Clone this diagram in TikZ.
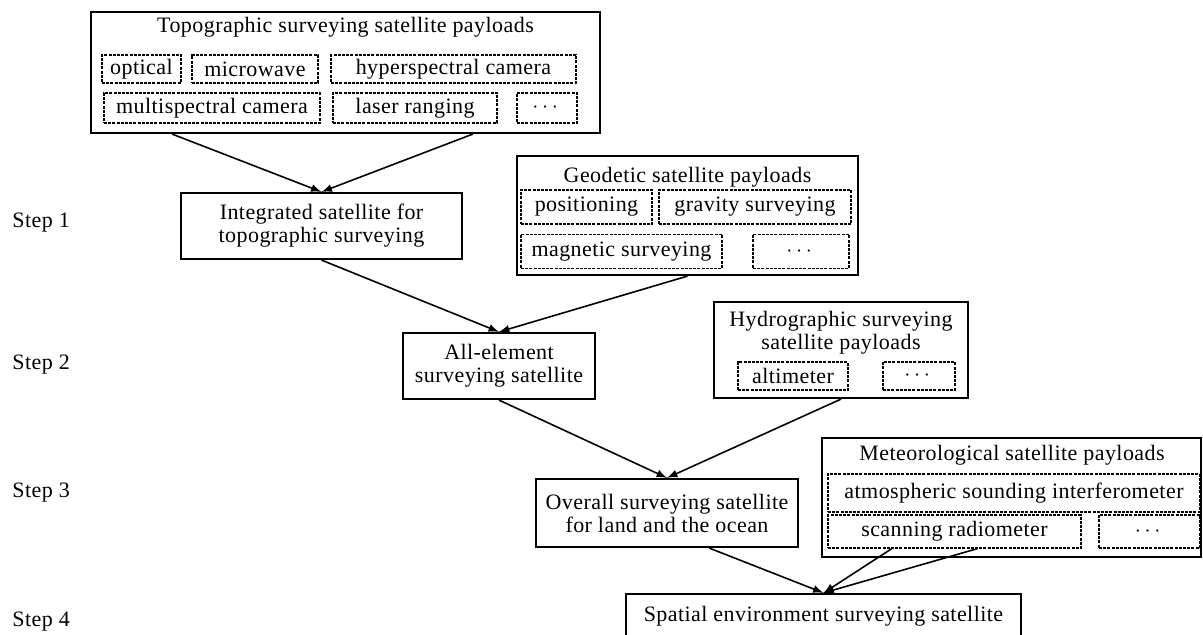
\documentclass[tikz,border=0pt]{standalone}
\usepackage{fontspec}
\setmainfont{Liberation Serif}[LetterSpace=2]
\usepackage{amsmath, amssymb}
\usepackage{tikz}
\usetikzlibrary{calc,shapes, arrows}

\tikzset{
    outerbox/.style={draw, line width=1.1pt, inner sep=0pt},
    satbox/.style={draw, line width=1.1pt, inner sep=0pt, align=center},
    dashbox/.style={draw, line width=0.7pt, dash pattern=on 1.5pt off 0.6pt, inner sep=0pt},
    steplabel/.style={anchor=west, inner sep=0pt},
    arr/.style={-latex, line width=0.8pt}
}

\begin{document}
\begin{tikzpicture}[x=0.5pt,y=-0.5pt,font=\fontsize{11pt}{11.5pt}\selectfont]
        \useasboundingbox (0,0) rectangle (1203,635);

        \node[steplabel] (s1) at (12,223) {Step 1};
        \node[steplabel] (s2) at (12,365) {Step 2};
        \node[steplabel] (s3) at (12,493) {Step 3};
        \node[steplabel] (s4) at (12,622) {Step 4};

        \node[outerbox, minimum width=254.5pt, minimum height=60.5pt] (topo) at (345.5,72.5) {};
        \node (topotitle) at (345.5,27) {Topographic surveying satellite payloads};
        \node[dashbox, minimum width=39.5pt, minimum height=14pt] (optical) at (141.5,69) {optical};
        \node[dashbox, minimum width=63pt, minimum height=14pt] (micro) at (255,69) {microwave};
        \node[dashbox, minimum width=122.5pt, minimum height=14pt] (hyper) at (453.5,69) {hyperspectral camera};
        \node[dashbox, minimum width=108pt, minimum height=15pt] (multi) at (212,108) {multispectral camera};
        \node[dashbox, minimum width=82pt, minimum height=15pt] (laser) at (415,108) {laser ranging};
        \node[dashbox, minimum width=30pt, minimum height=15pt] (tdots) at (547,108) {$\cdots$};

        \node[satbox, minimum width=140.5pt, minimum height=33pt] (integ) at (321.5,226) {Integrated satellite for\\topographic surveying};

        \node[outerbox, minimum width=170.5pt, minimum height=59.5pt] (geo) at (687.5,215.5) {};
        \node (geotitle) at (687.5,177) {Geodetic satellite payloads};
        \node[dashbox, minimum width=65.5pt, minimum height=17pt] (posi) at (586.5,207) {positioning};
        \node[dashbox, minimum width=96pt, minimum height=17pt] (grav) at (755,207) {gravity surveying};
        \node[dashbox, minimum width=100.5pt, minimum height=17pt] (magn) at (621.5,251.5) {magnetic surveying};
        \node[dashbox, minimum width=48pt, minimum height=17pt] (gdots) at (801,251.5) {$\cdots$};

        \node[satbox, minimum width=96pt, minimum height=33pt] (allel) at (499,366) {All-element\\surveying satellite};

        \node[outerbox, minimum width=127pt, minimum height=48pt] (hydro) at (841,350) {};
        \node[align=center] (hydrotitle) at (841,333) {Hydrographic surveying\\satellite payloads};
        \node[dashbox, minimum width=55pt, minimum height=14pt] (alti) at (793,376) {altimeter};
        \node[dashbox, minimum width=36pt, minimum height=14pt] (hdots) at (919,376) {$\cdots$};

        \node[satbox, minimum width=131pt, minimum height=34pt] (overall) at (667,513) {Overall surveying satellite\\for land and the ocean};

        \node[outerbox, minimum width=189.5pt, minimum height=59.5pt] (meteo) at (1011.5,497.5) {};
        \node (meteotitle) at (1012,455) {Meteorological satellite payloads};
        \node[dashbox, minimum width=186pt, minimum height=19pt] (atmo) at (1014,493) {atmospheric sounding interferometer};
        \node[dashbox, minimum width=126.5pt, minimum height=16.5pt] (scan) at (954.5,531.5) {scanning radiometer};
        \node[dashbox, minimum width=50.5pt, minimum height=16.5pt] (mdots) at (1149.5,531.5) {$\cdots$};

        \node[satbox, minimum width=197.5pt, minimum height=22pt] (spatial) at (823.5,616) {Spatial environment surveying satellite};

        \draw[arr] ($(topo.south west)!0.161!(topo.south east)$) -- (integ.north);
        \draw[arr] ($(topo.south west)!0.749!(topo.south east)$) -- (integ.north);
        \draw[arr] (integ.south) -- (allel.north);
        \draw[arr] (geo.south) -- (allel.north);
        \draw[arr] (allel.south) -- (overall.north);
        \draw[arr] (hydro.south) -- (overall.north);
        \draw[arr] ($(overall.south west)!0.66!(overall.south east)$) -- (spatial.north);
        \draw[arr] ($(scan.south west)!0.253!(scan.south east)$) -- (spatial.north);
        \draw[arr] ($(scan.south west)!0.589!(scan.south east)$) -- (spatial.north);
    \end{tikzpicture}
\end{document}
